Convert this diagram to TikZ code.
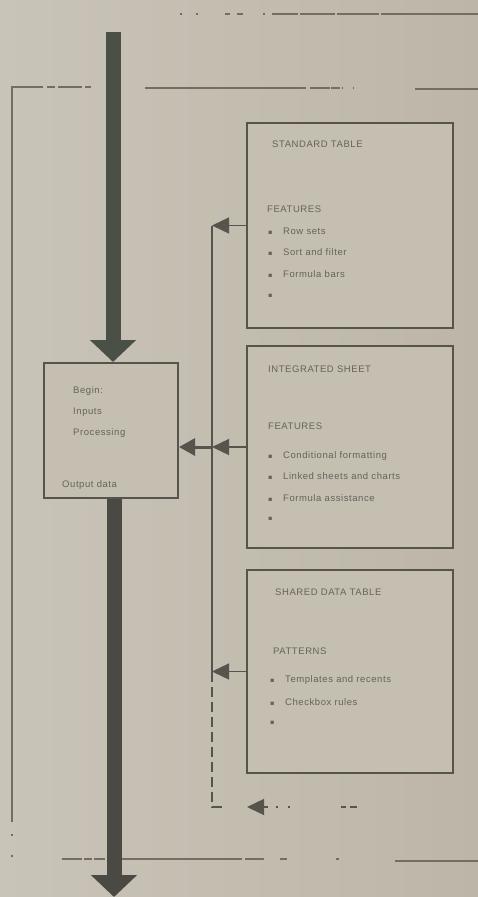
\documentclass[tikz,border=0pt]{standalone}
\usepackage{fontspec}
\setmainfont{Liberation Sans}
\newfontfamily\labelfont[LetterSpace=6]{Liberation Sans}
\newfontfamily\symfont{DejaVu Sans}
\usetikzlibrary{arrows.meta}

\definecolor{paper}{HTML}{C5BFB2}
\definecolor{paperlight}{HTML}{C9C4B8}
\definecolor{paperdark}{HTML}{BDB6A8}
\definecolor{ink}{HTML}{57534D}
\definecolor{rule}{HTML}{736D65}
\definecolor{flow}{HTML}{4B4943}
\definecolor{flowtop}{HTML}{4A5046}
\definecolor{txt}{HTML}{66625B}

\newcommand\sqbullet{\makebox[15pt][l]{\symfont\fontsize{6.5}{6.5}\selectfont ▪}}

\begin{document}
\begin{tikzpicture}[x=1pt,y=-1pt,
  panel/.style={draw=ink, line width=1.6pt, fill=paper, minimum width=206pt, inner sep=0pt},
  procbox/.style={draw=ink, line width=2pt, fill=paper, minimum width=134pt, minimum height=135pt, inner sep=0pt},
  lbl/.style={anchor=mid west, inner sep=0pt, text=txt, font=\labelfont\fontsize{9.5}{11}\selectfont},
  mainflow/.style={draw=flow, line width=15pt, -{Triangle[width=45pt,length=22pt]}},
  feed/.style={draw=ink, line width=1.3pt, -{Triangle[width=16pt,length=17pt]}},
  merge/.style={draw=ink, line width=3pt, -{Triangle[width=17pt,length=16pt]}},
  frame/.style={draw=rule, line width=1.2pt},
  busline/.style={draw=ink, line width=1.3pt},
]
% paper
\shade[left color=paperlight, right color=paperdark] (0,0) rectangle (478,897);
\useasboundingbox (0,0) rectangle (478,897);

% outer frame lines
\draw[frame] (180,14) -- (182,14) (196,14) -- (198,14) (225,14) -- (230,14) (237,14) -- (243,14) (263,14) -- (265,14)
  (272,14) -- (298,14) (300,14) -- (335,14) (337,14) -- (379,14) (381,14) -- (478,14);
\draw[frame] (12,92) -- (12,87) -- (43,87) (47,87) -- (55,87) (58,87) -- (82,87) (85,87) -- (91,87);
\draw[frame] (145,88) -- (306,88) (310,88) -- (330,88) (331,88) -- (340,88) (342,88) -- (343,88) (353,88) -- (354,88);
\draw[frame] (415,89) -- (478,89);
\draw[frame] (12,92) -- (12,822) (12,834) -- (12,836) (12,855) -- (12,857);
\draw[frame] (62,859) -- (82,859) (84,859) -- (92,859) (94,859) -- (105,859) (121,859) -- (242,859) (245,859) -- (264,859)
  (280,859) -- (287,859) (336,859) -- (339,859);
\draw[frame] (395,861) -- (478,861);

% boxes
\node[procbox] (proc) at (111,430.5) {};
\node[panel, minimum height=205pt] (b1) at (350,225.5) {};
\node[panel, minimum height=202pt] (b2) at (350,447) {};
\node[panel, minimum height=203pt] (b3) at (350,671.5) {};

% main flow
\coordinate (src) at (113,32);
\coordinate (sink) at (114,897);
\draw[mainflow, draw=flowtop] (src) -- (src |- proc.north);
\draw[mainflow] (sink |- proc.south) -- (sink);

% collecting bus
\coordinate (busx) at (212,0);
\draw[busline] (b1.west -| busx) -- (b3.west -| busx);
\draw[feed] (b1.west) -- (b1.west -| busx);
\draw[feed] (b2.west) -- (b2.west -| busx);
\draw[feed] (b3.west) -- (b3.west -| busx);
\draw[merge] (b2.west -| busx) -- (proc.east |- b2.west);

% feedback loop
\coordinate (fbturn) at (212,807);
\coordinate (fbstub) at (222,807);
\coordinate (fbtip) at (247,807);
\coordinate (fbtail) at (268,807);
\coordinate (fbend) at (358,807);
\draw[busline, dash pattern=on 10pt off 5pt] (b3.west -| busx) -- (fbturn) -- (fbstub);
\draw[feed] (fbtail) -- (fbtip);
\draw[busline, dash pattern=on 0pt off 8pt on 2pt off 10pt on 2pt off 51pt on 5pt off 4pt on 7pt off 10pt] (fbtail) -- (fbend);

% process box text
\node[lbl] (p1) at (73,391) {Begin:};
\node[lbl] (p2) at (73,412) {Inputs};
\node[lbl] (p3) at (73,433) {Processing};
\node[lbl] (p4) at (62,485) {Output data};

% first panel
\node[lbl] (b1t) at (272,145) {STANDARD TABLE};
\node[lbl] (b1h) at (267,210) {FEATURES};
\node[lbl] (b1i1) at (268,232) {\sqbullet Row sets};
\node[lbl] (b1i2) at (268,253) {\sqbullet Sort and filter};
\node[lbl] (b1i3) at (268,275) {\sqbullet Formula bars};
\node[lbl] (b1i4) at (268,295) {\sqbullet};

% second panel
\node[lbl] (b2t) at (268,370) {INTEGRATED SHEET};
\node[lbl] (b2h) at (268,427) {FEATURES};
\node[lbl] (b2i1) at (268,456) {\sqbullet Conditional formatting};
\node[lbl] (b2i2) at (268,477) {\sqbullet Linked sheets and charts};
\node[lbl] (b2i3) at (268,499) {\sqbullet Formula assistance};
\node[lbl] (b2i4) at (268,518) {\sqbullet};

% third panel
\node[lbl] (b3t) at (275,593) {SHARED DATA TABLE};
\node[lbl] (b3h) at (273,652) {PATTERNS};
\node[lbl] (b3i1) at (270,680) {\sqbullet Templates and recents};
\node[lbl] (b3i2) at (270,703) {\sqbullet Checkbox rules};
\node[lbl] (b3i3) at (270,722) {\sqbullet};
\end{tikzpicture}
\end{document}
